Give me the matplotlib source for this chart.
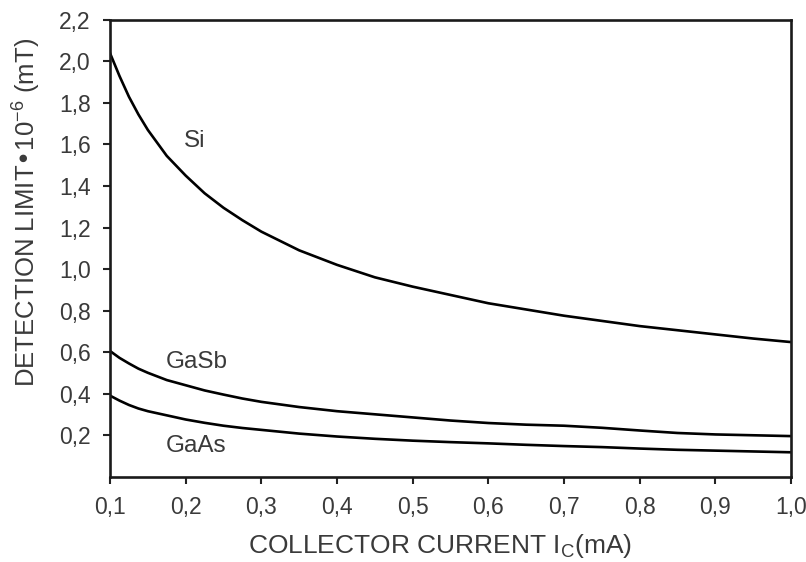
import matplotlib
matplotlib.use("Agg")
import matplotlib.pyplot as plt
from matplotlib.ticker import FuncFormatter

plt.rcParams['font.family'] = ['Liberation Sans', 'DejaVu Sans']

# Collector current (mA)
current = [0.10, 0.1125, 0.125, 0.1375, 0.15, 0.175, 0.20, 0.225, 0.25, 0.275,
           0.30, 0.35, 0.40, 0.45, 0.50, 0.55, 0.60, 0.65, 0.70, 0.75, 0.80,
           0.85, 0.90, 0.95, 1.00]

# Detection limit x 1e-6 (mT)
si = [2.04, 1.93, 1.83, 1.745, 1.67, 1.545, 1.45, 1.365, 1.295, 1.235,
      1.18, 1.09, 1.02, 0.96, 0.915, 0.875, 0.835, 0.805, 0.775, 0.75, 0.725,
      0.705, 0.685, 0.665, 0.648]
gasb = [0.605, 0.572, 0.545, 0.52, 0.50, 0.465, 0.44, 0.415, 0.395, 0.376,
        0.36, 0.335, 0.315, 0.30, 0.285, 0.27, 0.258, 0.25, 0.245, 0.235, 0.222,
        0.21, 0.203, 0.199, 0.195]
gaas = [0.39, 0.366, 0.345, 0.328, 0.315, 0.295, 0.275, 0.259, 0.245, 0.234,
        0.225, 0.207, 0.193, 0.182, 0.173, 0.166, 0.16, 0.153, 0.147, 0.142, 0.135,
        0.129, 0.125, 0.121, 0.117]

labels = ["Si", "GaSb", "GaAs"]
label_pos = [(0.212, 1.615), (0.215, 0.55), (0.214, 0.147)]

x_ticks = [0.1, 0.2, 0.3, 0.4, 0.5, 0.6, 0.7, 0.8, 0.9, 1.0]
y_ticks = [0.2, 0.4, 0.6, 0.8, 1.0, 1.2, 1.4, 1.6, 1.8, 2.0, 2.2]

text_color = "#3a3a3a"

fig = plt.figure(figsize=(8.06, 5.62), dpi=100)
ax = fig.add_axes([0.1365, 0.152, 0.845, 0.8125])

for series in (si, gasb, gaas):
    ax.plot(current, series, color="black", linewidth=1.9,
            solid_joinstyle="round")

for name, (lx, ly) in zip(labels, label_pos):
    ax.text(lx, ly, name, fontsize=17.5, color=text_color,
            ha="center", va="center")

ax.set_xlim(0.1, 1.0)
ax.set_ylim(0.0, 2.2)
ax.set_xticks(x_ticks)
ax.set_yticks(y_ticks)

comma = FuncFormatter(lambda v, _: f"{v:.1f}".replace(".", ","))
ax.xaxis.set_major_formatter(comma)
ax.yaxis.set_major_formatter(comma)

ax.tick_params(axis="both", direction="out", length=5, width=1.5,
               labelsize=16.5, labelcolor=text_color, color="#222222")
ax.tick_params(axis="y", pad=9)
ax.tick_params(axis="x", pad=9)

for spine in ax.spines.values():
    spine.set_linewidth(1.9)
    spine.set_color("#1a1a1a")

ax.set_xlabel("COLLECTOR CURRENT I$_\\mathregular{C}$(mA)", fontsize=19,
              color=text_color)
ax.set_ylabel("DETECTION LIMIT\u202210$^\\mathregular{-6}$ (mT)", fontsize=18.5,
              color=text_color)
ax.xaxis.set_label_coords(0.4846, -0.122)
ax.yaxis.set_label_coords(-0.100, 0.579)

fig.savefig("out.png", dpi=100)
